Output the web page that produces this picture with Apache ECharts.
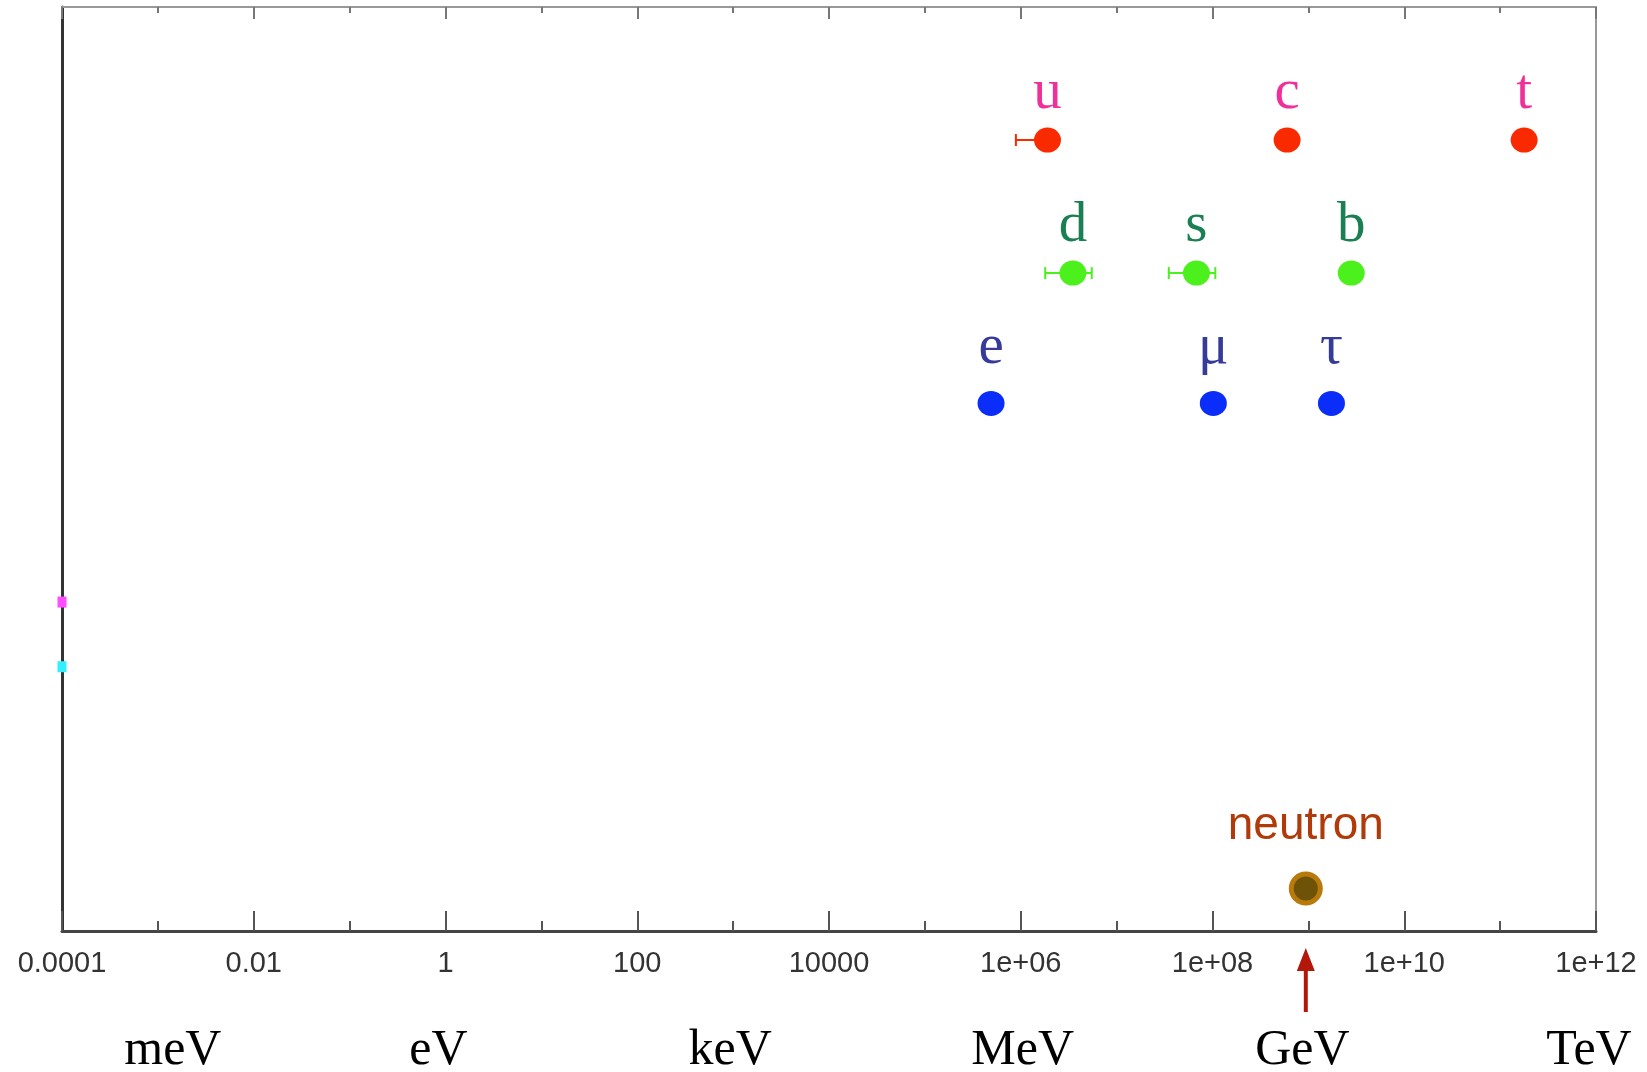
<!DOCTYPE html>
<html><head><meta charset="utf-8">
<script src="https://cdn.jsdelivr.net/npm/echarts@6/dist/echarts.min.js"></script>
<style>html,body{margin:0;padding:0;background:#fff}#main{width:1647px;height:1072px}</style>
</head><body><div id="main"></div>
<script>
// ---- data (masses in eV) ----
const tickExponents = [-4, -2, 0, 2, 4, 6, 8, 10, 12];
const tickLabels = ['0.0001', '0.01', '1', '100', '10000', '1e+06', '1e+08', '1e+10', '1e+12'];
const unitNames = ['meV', 'eV', 'keV', 'MeV', 'GeV', 'TeV'];
const unitValues = [1e-3, 1, 1e3, 1e6, 1e9, 1e12];

const upNames = ['u', 'c', 't'];
const upMass = [1.9e6, 6.0e8, 1.78e11];
const upRow = 0.856;

const downNames = ['d', 's', 'b'];
const downMass = [3.5e6, 6.8e7, 2.8e9];
const downRow = 0.712;

const leptonNames = ['e', 'μ', 'τ'];
const leptonMass = [4.9e5, 1.02e8, 1.74e9];
const leptonRow = 0.571;

const neutronNames = ['neutron'];
const neutronMass = [9.4e8];
const neutronRow = 0.046;

const neutrinoMass = [1e-4, 1e-4];
const neutrinoRows = [0.356, 0.286];

const errNames = ['u', 'd', 's'];
const errLow = [8.9e5, 1.8e6, 3.5e7];
const errHigh = [2.2e6, 5.5e6, 1.07e8];
const errRows = [upRow, downRow, downRow];

// ---- styles / layout ----
const RED = '#fa2a00', GREEN = '#4cf01c', BLUE = '#0b2dfa';
const errColors = [RED, GREEN, GREEN];
const neutrinoColors = ['#ff4dff', '#33f0ff'];
const unitDx = [15, -7, -3, 2, -6, -7];
const lg = Math.log10;

const chart = echarts.init(document.getElementById('main'), null, {renderer: 'canvas'});

function rowData(names, masses, row) {
  return masses.map((m, i) => ({name: names[i], value: [lg(m), row]}));
}
const letterLabel = (color, dist) => ({
  show: true, position: 'top', distance: dist, formatter: '{b}',
  color: color, fontFamily: 'Liberation Serif', fontSize: 57
});

const baseX = {
  type: 'value', min: -4, max: 12, splitLine: {show: false}
};

chart.setOption({
  animation: false,
  backgroundColor: '#fff',
  grid: {left: 62, right: 51, top: 7, bottom: 141},
  xAxis: [
    Object.assign({}, baseX, {
      position: 'bottom', interval: 2,
      axisLine: {show: true, onZero: false, lineStyle: {color: '#444', width: 3}},
      axisTick: {show: true, inside: true, length: 20, lineStyle: {color: '#555', width: 2}},
      axisLabel: {
        show: true, margin: 18, color: '#333', fontSize: 29, fontFamily: 'Liberation Sans',
        formatter: v => { const k = tickExponents.indexOf(Math.round(v)); return k >= 0 ? tickLabels[k] : ''; }
      }
    }),
    Object.assign({}, baseX, {
      position: 'bottom', interval: 1,
      axisLine: {show: false, onZero: false},
      axisTick: {show: true, inside: true, length: 10, lineStyle: {color: '#555', width: 2}},
      axisLabel: {show: false}
    }),
    Object.assign({}, baseX, {
      position: 'top', interval: 2,
      axisLine: {show: true, onZero: false, lineStyle: {color: '#999', width: 2}},
      axisTick: {show: true, inside: true, length: 12, lineStyle: {color: '#777', width: 2}},
      axisLabel: {show: false}
    }),
    Object.assign({}, baseX, {
      position: 'top', interval: 1,
      axisLine: {show: false, onZero: false},
      axisTick: {show: true, inside: true, length: 6, lineStyle: {color: '#777', width: 2}},
      axisLabel: {show: false}
    })
  ],
  yAxis: [
    {type: 'value', min: 0, max: 1, position: 'left',
     axisLine: {show: true, onZero: false, lineStyle: {color: '#333', width: 3}},
     axisTick: {show: false}, axisLabel: {show: false}, splitLine: {show: false}},
    {type: 'value', min: 0, max: 1, position: 'right',
     axisLine: {show: true, onZero: false, lineStyle: {color: '#999', width: 2}},
     axisTick: {show: false}, axisLabel: {show: false}, splitLine: {show: false}}
  ],
  series: [
    {
      type: 'custom', name: 'error', z: 2,
      data: errLow.map((l, i) => ({name: errNames[i], value: [lg(l), lg(errHigh[i]), errRows[i]]})),
      encode: {x: [0, 1], y: 2},
      renderItem: function (params, api) {
        const y = api.value(2);
        const p1 = api.coord([api.value(0), y]);
        const p2 = api.coord([api.value(1), y]);
        const h = 6, c = errColors[params.dataIndex];
        const st = {stroke: c, lineWidth: 2};
        return {type: 'group', children: [
          {type: 'line', shape: {x1: p1[0], y1: p1[1], x2: p2[0], y2: p2[1]}, style: st},
          {type: 'line', shape: {x1: p1[0], y1: p1[1] - h, x2: p1[0], y2: p1[1] + h}, style: st},
          {type: 'line', shape: {x1: p2[0], y1: p2[1] - h, x2: p2[0], y2: p2[1] + h}, style: st}
        ]};
      }
    },
    {type: 'scatter', name: 'up quarks', z: 3, symbol: 'circle', symbolSize: [27, 25],
     itemStyle: {color: RED, opacity: 1}, label: letterLabel('#f0309a', 6),
     data: rowData(upNames, upMass, upRow)},
    {type: 'scatter', name: 'down quarks', z: 3, symbol: 'circle', symbolSize: [27, 25],
     itemStyle: {color: GREEN, opacity: 1}, label: letterLabel('#1a7f52', 6),
     data: rowData(downNames, downMass, downRow)},
    {type: 'scatter', name: 'leptons', z: 3, symbol: 'circle', symbolSize: [27, 25],
     itemStyle: {color: BLUE, opacity: 1}, label: letterLabel('#363a98', 14),
     data: rowData(leptonNames, leptonMass, leptonRow)},
    {type: 'scatter', name: 'neutron', z: 3, symbol: 'circle', symbolSize: 29,
     itemStyle: {color: '#6e5208', borderColor: '#b97a0c', borderWidth: 5, opacity: 1},
     label: {show: true, position: 'top', distance: 22, formatter: '{b}', color: '#b03a0a',
             fontFamily: 'Liberation Sans', fontSize: 46},
     data: rowData(neutronNames, neutronMass, neutronRow)},
    {type: 'scatter', name: 'neutrinos', z: 4, symbol: 'rect', symbolSize: [9, 11], clip: true,
     data: neutrinoMass.map((m, i) => ({value: [lg(m), neutrinoRows[i]], itemStyle: {color: neutrinoColors[i], opacity: 1}}))}
  ]
});

// unit names under the axis and the arrow to the neutron mass
const g = [];
const axisBottomY = chart.convertToPixel({yAxisIndex: 0}, 0);
unitNames.forEach((n, i) => {
  const x = chart.convertToPixel({xAxisIndex: 0}, lg(unitValues[i])) + unitDx[i];
  g.push({type: 'text', x: x, y: axisBottomY + 120, style: {
    text: n, x: 0, y: 0, align: 'center', verticalAlign: 'middle',
    font: '50px "Liberation Serif"', fill: '#000'
  }});
});
const ax = chart.convertToPixel({xAxisIndex: 0}, lg(neutronMass[0]));
const tipY = axisBottomY + 17, endY = axisBottomY + 81;
g.push({type: 'line', shape: {x1: ax, y1: tipY + 18, x2: ax, y2: endY}, style: {stroke: '#b3170a', lineWidth: 4}});
g.push({type: 'polygon', shape: {points: [[ax, tipY], [ax - 9, tipY + 23], [ax + 9, tipY + 23]]}, style: {fill: '#b3170a'}});
chart.setOption({graphic: g});
</script>
</body></html>
